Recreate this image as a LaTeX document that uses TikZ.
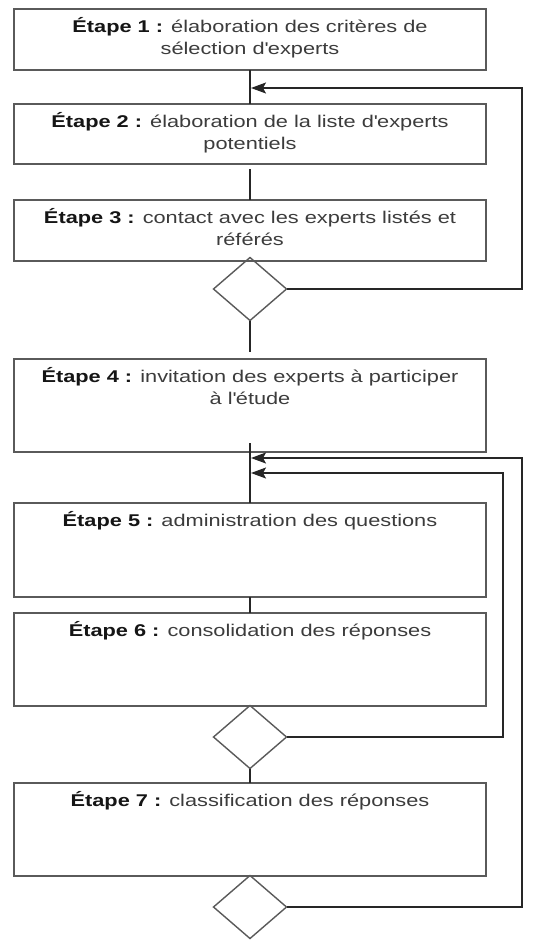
\documentclass[tikz,border=0pt]{standalone}
\usepackage{fontspec}
\setmainfont[FakeStretch=1.28]{Liberation Sans}
\usetikzlibrary{arrows.meta,shapes.geometric}
\definecolor{boxline}{HTML}{5A5A5A}
\definecolor{txtgrey}{HTML}{3C3C3C}
\definecolor{txtbold}{HTML}{151515}
\newcommand{\etp}[1]{\textcolor{txtbold}{\textbf{#1}}}
\begin{document}
\begin{tikzpicture}[x=1pt,y=-1pt,
  stepbox/.style={draw=boxline,line width=1.4pt,rectangle,minimum width=472pt,inner sep=0pt,outer sep=0pt,anchor=north},
  dia/.style={draw=boxline,line width=1.4pt,diamond,minimum width=73pt,minimum height=63pt,inner sep=0pt,outer sep=0pt},
  txt/.style={anchor=north,align=center,text=txtgrey,font=\fontsize{17}{22}\selectfont,inner sep=0pt},
  conn/.style={draw=black!85,line width=1.3pt},
  arr/.style={conn,-{Stealth[length=15pt,width=11pt,inset=3pt]}}]
\useasboundingbox (0,0) rectangle (558,948);
\fill[white] (0,0) rectangle (558,948);
% boxes
\node[stepbox,minimum height=61pt] (b1) at (250,9) {};
\node[stepbox,minimum height=60pt] (b2) at (250,104) {};
\node[stepbox,minimum height=61pt] (b3) at (250,200) {};
\node[dia] (d1) at (250,289) {};
\node[stepbox,minimum height=93pt] (b4) at (250,359) {};
\node[stepbox,minimum height=94pt] (b5) at (250,503) {};
\node[stepbox,minimum height=93pt] (b6) at (250,613) {};
\node[dia] (d2) at (250,737) {};
\node[stepbox,minimum height=93pt] (b7) at (250,783) {};
\node[dia] (d3) at (250,907) {};
% texts
\node[txt] (t1) at ([yshift=-8pt]b1.north) {\etp{Étape 1 :} élaboration des critères de\\sélection d\textquotesingle experts};
\node[txt] (t2) at ([yshift=-8pt]b2.north) {\etp{Étape 2 :} élaboration de la liste d\textquotesingle experts\\potentiels};
\node[txt] (t3) at ([yshift=-8pt]b3.north) {\etp{Étape 3 :} contact avec les experts listés et\\référés};
\node[txt] (t4) at ([yshift=-8pt]b4.north) {\etp{Étape 4 :} invitation des experts à participer\\à l\textquotesingle étude};
\node[txt] (t5) at ([yshift=-8pt]b5.north) {\etp{Étape 5 :} administration des questions};
\node[txt] (t6) at ([yshift=-8pt]b6.north) {\etp{Étape 6 :} consolidation des réponses};
\node[txt] (t7) at ([yshift=-8pt]b7.north) {\etp{Étape 7 :} classification des réponses};
% junctions
\coordinate (j1) at (251,88);
\coordinate (r1) at (522,88);
\coordinate (e1) at (250,352);
\coordinate (s4) at (250,443);
\coordinate (j2) at (251,458);
\coordinate (r2) at (522,458);
\coordinate (j3) at (251,473);
\coordinate (r3) at (503,473);
% connectors
\draw[conn] (b1.south) -- (b2.north);
\draw[conn] ([yshift=-5pt]b2.south) -- (b3.north);
\draw[conn] (d1.south) -- (e1);
\draw[conn] (s4) -- (b5.north);
\draw[conn] (b5.south) -- (b6.north);
\draw[conn] (d2.south) -- (b7.north);
\draw[arr] (d1.east) -| (r1) -- (j1);
\draw[arr] (d3.east) -| (r2) -- (j2);
\draw[arr] (d2.east) -| (r3) -- (j3);
\end{tikzpicture}
\end{document}
